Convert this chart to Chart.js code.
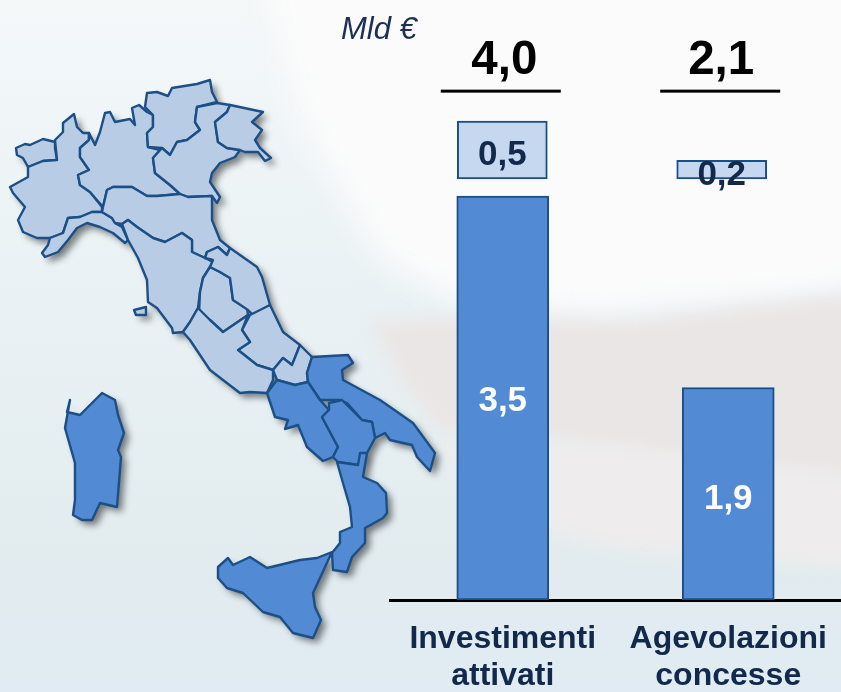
<!DOCTYPE html>
<html><head><meta charset="utf-8">
<style>html,body{margin:0;padding:0;background:#eef3f5}#w{width:841px;height:692px;position:relative}</style>
<script src="https://cdn.jsdelivr.net/npm/chart.js@4"></script></head>
<body><div id="w"><canvas id="c" width="841" height="692"></canvas></div>
<script>
const categories = [['Investimenti','attivati'],['Agevolazioni','concesse']];
const lowerRange = [3.5, 1.84];
const upperRange = [[3.65,4.15],[3.65,3.81]];
const upperSlot = [-0.002, 0.971];
const lowerText = ['3,5','1,9'];
const upperText = ['0,5','0,2'];
const totalText = ['4,0','2,1'];
const unitText = 'Mld €';

const light = {
 vda:[[16,148],[25,144],[30,145],[43,139],[55,142],[55,148],[57,160],[43,161],[28,167],[23,158],[17,155]],
 pie:[[28,167],[43,161],[57,160],[55,140],[63,132],[63,123],[74,114],[77,127],[83,133],[89,133],[89,140],[80,148],[80,157],[89,170],[78,175],[80,185],[90,192],[102,207],[102,212],[92,212],[80,217],[68,218],[63,233],[50,238],[37,238],[23,232],[18,220],[25,207],[13,193],[10,187],[28,177]],
 lig:[[50,238],[63,233],[68,218],[80,217],[92,212],[102,212],[112,218],[115,223],[122,227],[128,240],[125,243],[113,233],[100,227],[87,223],[77,228],[68,240],[58,252],[45,257],[42,253],[48,245]],
 lom:[[89,133],[95,145],[100,132],[105,113],[110,112],[115,122],[130,119],[135,125],[132,108],[139,105],[147,112],[153,115],[153,127],[147,133],[148,147],[160,150],[153,158],[155,173],[170,185],[180,194],[157,196],[147,196],[132,187],[113,187],[107,190],[103,207],[90,192],[80,185],[78,175],[89,170],[80,157],[80,148],[89,140]],
 taa:[[147,93],[157,92],[168,96],[172,88],[197,84],[210,80],[212,92],[217,102],[197,107],[195,122],[200,130],[187,140],[177,142],[170,155],[162,148],[148,147],[147,133],[153,127],[153,115],[145,107]],
 ven:[[197,107],[217,103],[230,105],[227,112],[215,122],[218,142],[227,148],[240,150],[235,157],[220,163],[212,173],[210,182],[220,197],[217,203],[212,196],[188,197],[180,194],[170,185],[155,173],[153,158],[162,148],[170,155],[177,142],[187,140],[200,130],[195,122]],
 fvg:[[230,105],[263,112],[252,122],[262,130],[255,140],[260,148],[271,158],[265,161],[258,152],[245,152],[240,150],[227,148],[218,142],[215,122],[227,112]],
 emr:[[107,190],[113,187],[132,187],[147,196],[157,196],[180,194],[188,197],[212,196],[212,220],[220,240],[230,248],[227,255],[218,247],[207,252],[205,258],[192,252],[192,240],[182,233],[165,242],[153,238],[137,227],[128,220],[122,224],[115,223],[112,218],[102,212],[103,207]],
 tos:[[122,224],[128,220],[137,227],[153,238],[165,242],[182,233],[192,240],[192,252],[205,258],[213,262],[203,278],[200,292],[198,308],[190,322],[183,332],[173,333],[172,328],[157,308],[148,302],[147,280],[138,258],[128,240]],
 elb:[[134,310],[146,307],[146,315],[136,315]],
 umb:[[210,267],[220,272],[230,278],[233,300],[247,308],[248,315],[223,332],[210,320],[199,313],[200,292],[203,278]],
 mar:[[207,252],[218,247],[227,255],[230,248],[257,267],[262,277],[270,305],[253,315],[248,310],[233,300],[230,278],[220,272],[210,267],[213,260],[205,258]],
 abr:[[270,305],[283,332],[300,345],[292,365],[283,358],[273,370],[257,365],[238,350],[250,342],[242,330],[250,315]],
 laz:[[183,332],[190,322],[198,308],[210,320],[223,332],[248,315],[242,330],[250,342],[238,350],[257,365],[273,370],[273,380],[267,393],[250,392],[240,393],[223,380],[210,370],[190,340]],
 mol:[[300,345],[312,357],[307,373],[308,382],[295,385],[277,380],[273,370],[283,358],[292,365]]
};
const dark = {
 pug:[[312,357],[348,355],[353,363],[342,370],[343,380],[380,400],[413,423],[435,453],[430,471],[417,457],[412,445],[390,440],[385,433],[375,438],[372,422],[362,420],[347,403],[340,400],[320,400],[308,382],[307,373]],
 cam:[[267,393],[277,380],[295,385],[308,382],[320,400],[329,410],[322,417],[338,447],[333,457],[323,461],[307,447],[298,425],[285,429],[288,420],[275,417]],
 bas:[[329,403],[342,400],[352,410],[362,420],[372,422],[375,438],[367,453],[358,465],[338,462],[333,457],[338,447],[322,417],[329,410]],
 cal:[[337,462],[358,465],[360,453],[367,453],[363,477],[377,483],[386,493],[387,513],[383,518],[365,528],[365,543],[352,557],[347,572],[333,570],[332,553],[340,543],[340,532],[352,527],[350,507],[343,483]],
 sic:[[218,567],[228,558],[233,565],[250,557],[267,568],[300,560],[317,558],[332,552],[313,593],[315,607],[321,620],[313,638],[293,633],[280,617],[263,612],[243,593],[227,588],[218,578]],
 sar:[[70,400],[67,412],[80,415],[93,402],[102,393],[115,400],[118,415],[124,433],[118,450],[121,457],[117,507],[100,503],[92,520],[82,520],[73,515],[75,500],[75,463],[65,428]]
};
function shape(ctx,pts){ctx.beginPath();pts.forEach((p,i)=>i?ctx.lineTo(p[0],p[1]):ctx.moveTo(p[0],p[1]));ctx.closePath();}
const backdrop = {
 id:'backdrop',
 beforeDraw(chart){
  const ctx=chart.ctx,W=chart.width,H=chart.height;
  ctx.save();
  let g=ctx.createLinearGradient(0,0,0,H);
  g.addColorStop(0,'#f4f8f9');g.addColorStop(.45,'#e9f1f4');g.addColorStop(.8,'#e2ecef');g.addColorStop(1,'#e0ebf3');
  ctx.fillStyle=g;ctx.fillRect(0,0,W,H);
  ctx.filter='blur(16px)';
  ctx.fillStyle='#fbfbfb';
  shape(ctx,[[262,-30],[880,-30],[880,290],[600,315],[470,310],[380,260],[300,120]]);ctx.fill();
  ctx.filter='blur(8px)';
  ctx.fillStyle='#ebe6e6';
  shape(ctx,[[370,322],[480,316],[620,322],[880,290],[880,480],[700,470],[560,440],[440,430],[400,380]]);ctx.fill();
  ctx.fillStyle='#eeecec';
  shape(ctx,[[440,436],[620,446],[880,480],[880,570],[620,550],[470,510]]);ctx.fill();
  ctx.filter='none';
  const all=[...Object.values(light),...Object.values(dark)];
  ctx.save();
  ctx.shadowColor='rgba(50,55,60,.65)';ctx.shadowBlur=7;ctx.shadowOffsetX=5;ctx.shadowOffsetY=5;
  ctx.fillStyle='#8aa';
  all.forEach(p=>{shape(ctx,p);ctx.fill();});
  ctx.restore();
  ctx.lineJoin='round';ctx.lineWidth=2.4;ctx.strokeStyle='#1d4f87';
  Object.values(light).forEach(p=>{shape(ctx,p);ctx.fillStyle='#b8cde5';ctx.fill();ctx.stroke();});
  Object.values(dark).forEach(p=>{shape(ctx,p);ctx.fillStyle='#528bd4';ctx.fill();ctx.stroke();});
  ctx.restore();
 }
};
const texts = {
 id:'texts',
 afterDatasetsDraw(chart){
  const ctx=chart.ctx,y=chart.scales.y,x2=chart.scales.x2;
  const lo=chart.getDatasetMeta(0).data,up=chart.getDatasetMeta(1).data;
  ctx.save();ctx.textAlign='center';ctx.textBaseline='middle';
  ctx.font='bold 35px "Liberation Sans",Arial,sans-serif';
  ctx.fillStyle='#fff';
  lo.forEach((b,i)=>ctx.fillText(lowerText[i],b.x,(b.y+b.base)/2+(i?5:3)));
  ctx.fillStyle='#12294b';
  up.forEach((b,i)=>ctx.fillText(upperText[i],b.x,(b.y+b.base)/2+(i?6:5)));
  ctx.fillStyle='#000';ctx.font='bold 47.5px "Liberation Sans",Arial,sans-serif';
  totalText.forEach((t,i)=>{
    const cx=x2.getPixelForValue(upperSlot[i]);
    ctx.fillText(t,cx+(i?-0.5:2),y.getPixelForValue(4.68)+1);
    ctx.fillRect(cx-61.5,y.getPixelForValue(4.41)-1.5,120,3);
  });
  ctx.font='italic 31px "Liberation Sans",Arial,sans-serif';
  ctx.fillStyle='#1b2f57';ctx.textAlign='left';
  ctx.fillText(unitText,341,30);
  ctx.restore();
 }
};
new Chart(document.getElementById('c'),{
 type:'bar',
 data:{labels:categories,datasets:[
  {grouped:false,data:lowerRange,backgroundColor:'#528bd4',borderColor:'#1d4f87',borderWidth:2,borderSkipped:false,barThickness:92},
  {grouped:false,xAxisID:'x2',data:upperRange.map((r,i)=>({x:upperSlot[i],y:r})),backgroundColor:'#c5d8f0',borderColor:'#1d4f87',borderWidth:2,borderSkipped:false,barThickness:90}
 ]},
 options:{
  responsive:false,animation:false,
  layout:{autoPadding:false,padding:{left:390,right:-1,top:0,bottom:0}},
  plugins:{legend:{display:false},tooltip:{enabled:false}},
  scales:{
   y:{min:0,max:5.2,display:false},
   x:{type:'category',offset:true,grid:{display:false,drawTicks:false},
      border:{color:'#000',width:3},
      afterFit(s){s.height=92;s.paddingLeft=0;s.paddingRight=0;if(s._margins){s._margins.left=0;s._margins.right=0;}},
      ticks:{color:'#12294b',padding:20,maxRotation:0,autoSkip:false,font:{family:'"Liberation Sans",Arial,sans-serif',size:32,weight:'bold',lineHeight:1.17}}},
   x2:{type:'linear',offset:false,min:-0.5,max:1.5,display:false}
  }
 },
 plugins:[backdrop,texts]
});
</script></body></html>
